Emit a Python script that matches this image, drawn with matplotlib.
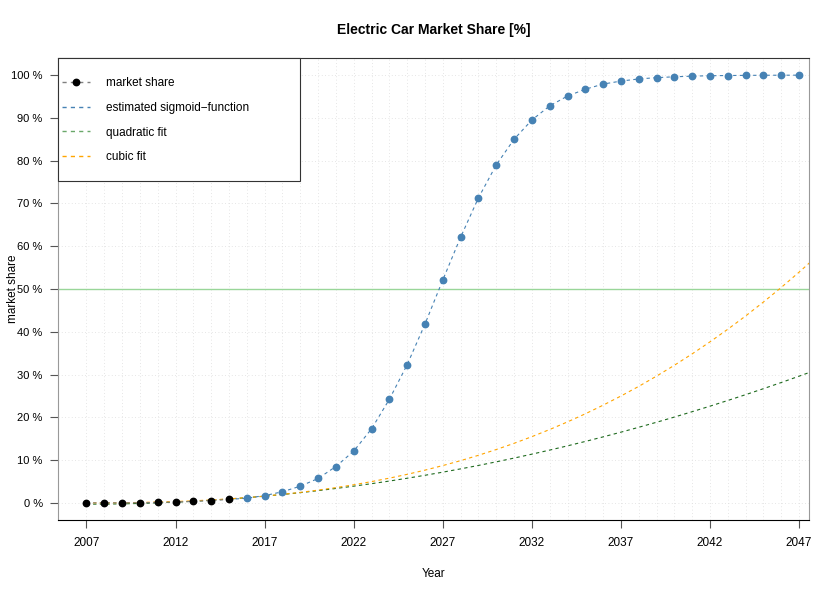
import matplotlib.pyplot as plt
from matplotlib.lines import Line2D
from matplotlib.patches import Rectangle

plt.rcParams['font.family'] = ['Liberation Sans', 'DejaVu Sans']

# observed market share (%)
share_years = list(range(2007, 2016))
share_values = [0.01, 0.02, 0.03, 0.04, 0.1, 0.2, 0.35, 0.55, 0.8]

# estimated sigmoid (%)
sig_years = list(range(2015, 2048))
sig_values = [0.8, 1.1, 1.7, 2.6, 3.9, 5.7, 8.5, 12.1, 17.3, 24.2, 32.3, 41.8,
              52.1, 62.1, 71.3, 79.0, 85.0, 89.5, 92.8, 95.1, 96.7, 97.9, 98.6,
              99.1, 99.4, 99.6, 99.75, 99.85, 99.9, 99.93, 99.96, 99.97, 99.98]

# polynomial fits (%)
fit_years = list(range(2007, 2049))
quad_values = [-0.3, -0.28, -0.23, -0.13, 0.0, 0.17, 0.37, 0.62, 0.9, 1.21,
               1.57, 1.96, 2.39, 2.86, 3.37, 3.91, 4.49, 5.1, 5.76, 6.45,
               7.18, 7.95, 8.75, 9.59, 10.47, 11.39, 12.34, 13.33, 14.36, 15.43,
               16.53, 17.67, 18.85, 20.06, 21.32, 22.61, 23.94, 25.3, 26.7, 28.14,
               29.62, 31.13]
cubic_values = [0.0, 0.01, 0.04, 0.1, 0.2, 0.32, 0.48, 0.69, 0.94, 1.23,
                1.58, 1.99, 2.45, 2.98, 3.57, 4.23, 4.97, 5.78, 6.67, 7.65,
                8.72, 9.87, 11.12, 12.47, 13.92, 15.48, 17.15, 18.93, 20.82, 22.84,
                24.98, 27.24, 29.64, 32.17, 34.84, 37.65, 40.6, 43.7, 46.96, 50.37,
                53.94, 57.67]

xticks = list(range(2007, 2048, 5))
yticks = list(range(0, 101, 10))

blue = '#4682b4'
green = '#1f6b1f'
orange = '#ffa500'

fig = plt.figure(figsize=(8.4, 5.94), dpi=100)
ax = fig.add_axes([0.069, 0.1246, 0.894, 0.7778])

# grid
for yr in range(2007, 2048):
    ax.axvline(yr, color='#dddddd', lw=0.6, ls=(0, (1, 3)), zorder=0)
for v in yticks:
    ax.axhline(v, color='#dddddd', lw=0.6, ls=(0, (1, 3)), zorder=0)
ax.axhline(50, color='#99d699', lw=1.0, zorder=1)

ax.plot(fit_years, quad_values, color=green, lw=0.8, ls=(0, (3, 3)), zorder=2)
ax.plot(fit_years, cubic_values, color=orange, lw=0.8, ls=(0, (3, 3)), zorder=2)
ax.plot(sig_years, sig_values, color=blue, lw=0.8, ls=(0, (3, 3)), zorder=3)
ax.plot(sig_years[1:], sig_values[1:], 'o', color=blue, ms=4.6, zorder=4)
ax.plot(share_years, share_values, color='gray', lw=0.8, ls=(0, (3, 3)), zorder=3)
ax.plot(share_years, share_values, 'o', color='black', ms=4.6, zorder=5)

ax.set_xlim(2005.4, 2047.55)
ax.set_ylim(-4, 104)
ax.set_xticks(xticks)
ax.set_yticks(yticks)
ax.set_yticklabels([f'{v} %' for v in yticks])
ax.tick_params(axis='x', labelsize=8.5, length=6, color='#555555', pad=6)
ax.tick_params(axis='y', labelsize=8, length=6, color='#555555', pad=5)

for side in ['left', 'right']:
    ax.spines[side].set_color('#999999')
ax.spines['top'].set_color('#333333')
ax.spines['bottom'].set_color('black')

ax.set_xlabel('Year', fontsize=8.5, labelpad=14)
ax.set_ylabel('market share', fontsize=8.5)
ax.yaxis.set_label_coords(-0.052, 0.5)
ax.set_title('Electric Car Market Share [%]', fontsize=10, fontweight='bold', pad=17)

# legend box
ax.add_patch(Rectangle((0, 1), 242 / 751, -123 / 462, transform=ax.transAxes,
                       facecolor='white', edgecolor='#333333', lw=0.8,
                       zorder=6, clip_on=False))

handles = [
    Line2D([], [], color='gray', lw=1.0, ls=(0, (3, 3)), marker='o',
           markerfacecolor='black', markeredgecolor='black', ms=4.6),
    Line2D([], [], color=blue, lw=1.0, ls=(0, (3, 3))),
    Line2D([], [], color='#6aa86a', lw=1.0, ls=(0, (3, 3))),
    Line2D([], [], color=orange, lw=1.0, ls=(0, (3, 3))),
]
labels = ['market share', 'estimated sigmoid\u2212function', 'quadratic fit', 'cubic fit']
leg = ax.legend(handles, labels, loc='upper left', bbox_to_anchor=(0.0710, 0.8742),
                bbox_transform=fig.transFigure, borderaxespad=0, fontsize=8.5,
                frameon=False, borderpad=0.2, labelspacing=1.08,
                handlelength=2.37, handletextpad=1.36)
leg.set_zorder(7)

fig.savefig('out.png', dpi=100)
